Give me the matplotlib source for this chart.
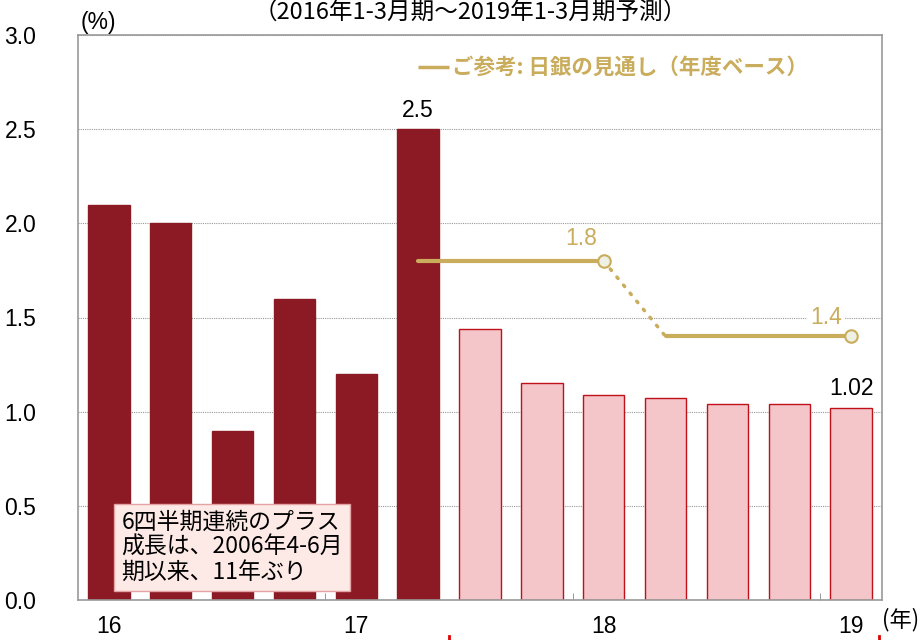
import numpy as np
import matplotlib
matplotlib.use('Agg')
import matplotlib.pyplot as plt

plt.rcParams['font.family'] = ['Liberation Sans', 'Noto Sans CJK JP', 'DejaVu Sans']

# Real GDP growth (%), 2016 Q1 - 2019 Q1 (forecast from 2017 Q3)
quarters = list(range(13))
growth = [2.1, 2.0, 0.9, 1.6, 1.2, 2.5, 1.44, 1.15, 1.09, 1.07, 1.04, 1.04, 1.02]
n_actual = 6

# BOJ outlook (fiscal year base)
boj_x1 = [5, 8]
boj_y1 = [1.8, 1.8]
boj_x2 = [9, 12]
boj_y2 = [1.4, 1.4]

year_pos = [0, 4, 8, 12]
year_labels = ['16', '17', '18', '19']

dark = '#8B1A25'
light = '#F4C5C9'
gold = '#C9AC5C'
jp = ['Noto Sans CJK JP', 'DejaVu Sans']

fig = plt.figure(figsize=(9.23, 6.4), dpi=100)
ax = fig.add_axes([78/923, 1-600/640, 804/923, 565/640])

colors = [dark if i < n_actual else light for i in quarters]
edges = [dark if i < n_actual else '#C0101A' for i in quarters]
ax.bar(quarters, growth, width=0.67, color=colors, edgecolor=edges, linewidth=1, zorder=2)

ax.set_xlim(-0.5, 12.5)
ax.set_ylim(0, 3.0)
ax.set_yticks(np.arange(0, 3.01, 0.5))
ax.set_yticklabels(['%.1f' % v for v in np.arange(0, 3.01, 0.5)], fontsize=16.5)
ax.yaxis.grid(True, linestyle=(0, (1, 1)), color='#999999', linewidth=0.8, zorder=0)
ax.tick_params(axis='y', length=0, pad=30)
ax.set_xticks(year_pos)
ax.set_xticklabels(year_labels, fontsize=16.5)
ax.tick_params(axis='x', length=0, pad=11)
ax.set_xticks([3.5, 7.5, 11.5], minor=True)
ax.tick_params(axis='x', which='minor', direction='in', length=5, color='#888888')
for s in ax.spines.values():
    s.set_color('#999999')
    s.set_linewidth(1.2)

# BOJ outlook lines
ax.plot(boj_x1, boj_y1, color=gold, lw=3, solid_capstyle='round', zorder=3)
ax.plot(boj_x2, boj_y2, color=gold, lw=3, solid_capstyle='round', zorder=3)
ax.plot([boj_x1[1], boj_x2[0]], [boj_y1[1], boj_y2[0]], color=gold, lw=2.5,
        linestyle=(0, (0.5, 2.5)), dash_capstyle='round', zorder=3)
ax.plot([boj_x1[1], boj_x2[1]], [boj_y1[1], boj_y2[1]], 'o', ms=9, mfc='#EEF0E4',
        mec=gold, mew=1.5, zorder=4)
ax.text(boj_x1[1] - 0.1, boj_y1[1] + 0.06, '1.8', color=gold, fontsize=16.5,
        ha='right', va='bottom', zorder=4)
ax.text(boj_x2[1] - 0.15, boj_y2[1] + 0.04, '1.4', color=gold, fontsize=16.5,
        ha='right', va='bottom', zorder=4,
        bbox=dict(boxstyle='square,pad=0.15', fc='white', ec='none'))

# value labels
ax.text(5, growth[5] + 0.04, '2.5', fontsize=16.5, ha='center', va='bottom')
ax.text(12, growth[12] + 0.04, '1.02', fontsize=16.5, ha='center', va='bottom')

# legend
ax.plot([5.0, 5.5], [2.83, 2.83], color=gold, lw=2.5, solid_capstyle='butt')
ax.text(5.55, 2.83, 'ご参考: 日銀の見通し（年度ベース）', color=gold, fontsize=15.5,
        fontweight='bold', ha='left', va='center', family=jp)

# annotation box
ax.text(0.2, 0.28, '6四半期連続のプラス\n成長は、2006年4-6月\n期以来、11年ぶり',
        fontsize=16.5, ha='left', va='center', linespacing=1.12,
        family=jp, zorder=5,
        bbox=dict(boxstyle='square,pad=0.3', fc='#FDE9E6', ec='#E4A3A3', lw=1))

# red tick marks below axis
for xp in [5.5, 12.45]:
    ax.plot([xp, xp], [-0.19, -0.23], color='#E00000', lw=2, clip_on=False)

fig.text(98/923, 1-22/640, '(%)', fontsize=16.5, ha='center', va='center')
fig.text(901/923, 1-620/640, '(年)', fontsize=16, ha='center', va='center', family=jp)
fig.text(470/923, 0.999, '（2016年1-3月期～2019年1-3月期予測）', fontsize=17,
         ha='center', va='top', family=jp)

fig.savefig('out.png', dpi=100)
